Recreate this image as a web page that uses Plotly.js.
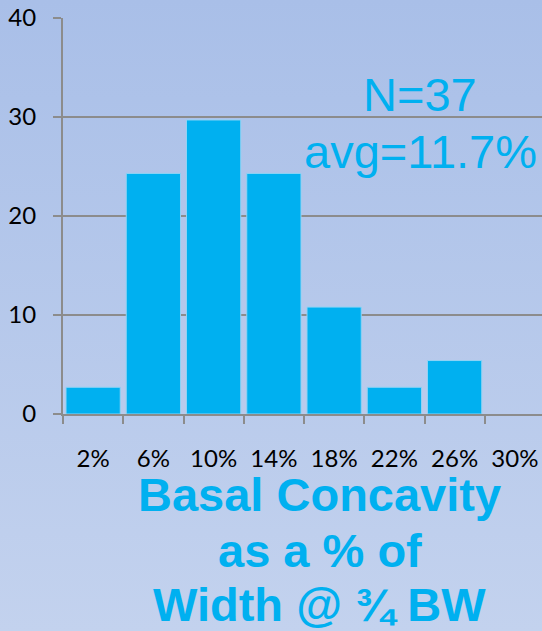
<!DOCTYPE html>
<html>
<head>
<meta charset="utf-8">
<script src="https://cdn.plot.ly/plotly-3.0.1.min.js"></script>
<style>
  html, body { margin: 0; padding: 0; }
  body { width: 542px; height: 631px; background: linear-gradient(to bottom, #a9bfe8 0%, #c3d2ee 100%); overflow: hidden; }
  #chart { width: 545px; height: 631px; }
</style>
</head>
<body>
<div id="chart"></div>
<script>
const categories = ["2%", "6%", "10%", "14%", "18%", "22%", "26%", "30%"];
const percentValues = [2.7, 24.3, 29.7, 24.3, 10.8, 2.7, 5.4, null];
const yTickValues = [0, 10, 20, 30, 40];
const statLines = ["N=37", "avg=11.7%"];
const titleLines = ["Basal Concavity", "as a % of", "Width @ ¾ BW"];

const cyan = "#00b0f0";
const grid = "#8c8c8c";

const trace = {
  type: "bar",
  x: categories,
  y: percentValues,
  marker: { color: cyan, line: { color: "#8fd3f5", width: 1 } },
  hoverinfo: "skip"
};

const statY = [0.808, 0.664];
const titleY = [-0.203, -0.345, -0.482];

const annotations = [];
statLines.forEach((t, i) => annotations.push({
  text: t, xref: "paper", yref: "paper", x: 0.741, y: statY[i],
  xanchor: "center", yanchor: "middle", showarrow: false,
  font: { family: "Liberation Sans, Arial, sans-serif", size: 47, color: cyan }
}));
titleLines.forEach((t, i) => annotations.push({
  text: "<b>" + t + "</b>", xref: "paper", yref: "paper", x: 0.533, y: titleY[i],
  xanchor: "center", yanchor: "middle", showarrow: false,
  font: { family: "Liberation Sans, Arial, sans-serif", size: 47, color: cyan }
}));

const layout = {
  width: 545, height: 631,
  margin: { l: 63, r: 0, t: 18, b: 217 },
  paper_bgcolor: "rgba(0,0,0,0)",
  plot_bgcolor: "rgba(0,0,0,0)",
  showlegend: false,
  bargap: 0.1,
  xaxis: {
    type: "category",
    range: [-0.5, 7.5],
    tickson: "boundaries",
    ticks: "outside", ticklen: 8, tickwidth: 2, tickcolor: grid,
    showline: true, linecolor: grid, linewidth: 2,
    showgrid: false, zeroline: false,
    ticklabelstandoff: 22,
    tickfont: { family: "Lato, sans-serif", size: 24, color: "#000" },
    fixedrange: true
  },
  yaxis: {
    range: [0, 40],
    tickvals: yTickValues,
    ticks: "outside", ticklen: 8, tickwidth: 2, tickcolor: grid,
    showline: true, linecolor: grid, linewidth: 2,
    showgrid: true, gridcolor: grid, gridwidth: 2,
    zeroline: false,
    ticklabelstandoff: 12,
    tickfont: { family: "Lato, sans-serif", size: 24, color: "#000" },
    fixedrange: true
  },
  annotations: annotations
};

Plotly.newPlot("chart", [trace], layout, { displayModeBar: false, staticPlot: true });
</script>
</body>
</html>
